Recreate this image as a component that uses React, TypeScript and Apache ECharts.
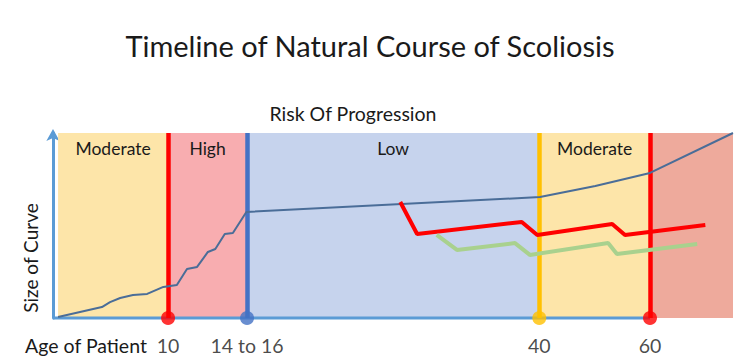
import React, { useEffect, useRef } from "react";
import * as echarts from "echarts";

// Timeline positions (0..100 along the age axis, as drawn in the picture)
const bandNames = ["Moderate", "High", "Low", "Moderate", ""];
const bandStarts = [0, 16.3, 28.0, 71.3, 87.7];
const bandEnds = [16.3, 28.0, 71.3, 87.7, 100];
const bandColors = ["#fde5a9", "#f8adb0", "#c6d3ed", "#fde5a9", "#eeaa9c"];

const markerPositions = [16.3, 28.0, 71.3, 87.7];
const markerLabels = ["10", "14 to 16", "40", "60"];
const markerColors = ["#ff0000", "#4472c4", "#ffc000", "#ff0000"];

// Natural course curve (size of curve, 0..100)
const naturalX = [0, 6.5, 7.7, 9.2, 11.1, 13.2, 15.6, 17.6, 19.1, 20.6, 22.2, 23.3, 24.7, 25.9, 27.9, 71.4, 79.6, 87.7, 100];
const naturalY = [0.5, 5.9, 8.6, 10.8, 12.4, 13.0, 16.8, 17.8, 26.5, 27.6, 35.7, 37.3, 45.4, 45.9, 57.3, 65.4, 71.4, 78.4, 100];

const redX = [50.7, 53.2, 68.7, 71.0, 82.1, 84.0, 95.9];
const redY = [62.7, 45.4, 51.9, 44.9, 50.8, 44.9, 50.3];

const greenX = [56.1, 59.1, 67.7, 69.9, 81.5, 82.8, 94.7];
const greenY = [44.9, 36.8, 40.5, 34.1, 40.5, 34.6, 40.0];

const X_MIN = -0.75;
const X_MAX = 100;
const AXIS_END = 87.7;

const FONT = "Lato, 'Noto Sans', sans-serif";

export default function App() {
  const ref = useRef<HTMLDivElement>(null);

  useEffect(() => {
    document.body.style.margin = "0";
    if (!ref.current) return;
    const chart = echarts.init(ref.current, undefined, { renderer: "svg" });

    const zip = (xs: number[], ys: number[]) => xs.map((x, i) => [x, ys[i]]);

    chart.setOption({
      animation: false,
      backgroundColor: "#ffffff",
      grid: { left: 53, right: 17, top: 133, bottom: 44 },
      xAxis: {
        type: "value",
        min: X_MIN,
        max: X_MAX,
        axisLine: { show: false },
        axisTick: { show: false },
        axisLabel: { show: false },
        splitLine: { show: false },
      },
      yAxis: {
        type: "value",
        min: 0,
        max: 100,
        axisLine: {
          show: true,
          onZero: false,
          lineStyle: { color: "#5b9bd5", width: 3 },
          symbol: ["none", "arrow"],
          symbolSize: [10, 12],
          symbolOffset: [0, 4],
        },
        axisTick: { show: false },
        axisLabel: { show: false },
        splitLine: { show: false },
      },
      graphic: [
        {
          type: "text",
          x: 370,
          y: 45,
          style: {
            text: "Timeline of Natural Course of Scoliosis",
            font: `29px ${FONT}`,
            fill: "#1a1a1a",
            align: "center",
            verticalAlign: "middle",
          },
        },
        {
          type: "text",
          x: 353,
          y: 113,
          style: {
            text: "Risk Of Progression",
            font: `19.5px ${FONT}`,
            fill: "#1a1a1a",
            align: "center",
            verticalAlign: "middle",
          },
        },
        {
          type: "text",
          x: 30,
          y: 258,
          rotation: Math.PI / 2,
          style: {
            text: "Size of Curve",
            font: `19px ${FONT}`,
            fill: "#1a1a1a",
            align: "center",
            verticalAlign: "middle",
          },
        },
        {
          type: "text",
          x: 86,
          y: 345,
          style: {
            text: "Age of Patient",
            font: `19.5px ${FONT}`,
            fill: "#1a1a1a",
            align: "center",
            verticalAlign: "middle",
          },
        },
      ],
      series: [
        {
          name: "bands",
          type: "line",
          data: [],
          markArea: {
            silent: true,
            data: bandNames.map((n, i) => [
              {
                name: n,
                xAxis: bandStarts[i],
                yAxis: 0,
                itemStyle: { color: bandColors[i], opacity: 1 },
                label: {
                  show: n !== "",
                  position: "insideTop",
                  distance: 6,
                  color: "#1a1a1a",
                  fontFamily: FONT,
                  fontSize: 17.5,
                },
              },
              { xAxis: bandEnds[i], yAxis: 100 },
            ]),
          },
        },
        {
          name: "ageAxis",
          type: "line",
          data: [
            [X_MIN, 0],
            [AXIS_END, 0],
          ],
          symbol: "none",
          lineStyle: { color: "#5b9bd5", width: 3 },
          clip: false,
          z: 3,
        },
        {
          name: "markers",
          type: "line",
          data: [],
          markLine: {
            silent: true,
            symbol: "none",
            label: { show: false },
            data: markerPositions.map((p, i) => [
              { coord: [p, 0], lineStyle: { color: markerColors[i], width: 4.5, type: "solid" } },
              { coord: [p, 100] },
            ]),
          },
          z: 4,
        },
        {
          name: "Natural course",
          type: "line",
          data: zip(naturalX, naturalY),
          symbol: "none",
          lineStyle: { color: "#4a6d98", width: 2 },
          z: 5,
        },
        {
          name: "Curve A",
          type: "line",
          data: zip(redX, redY),
          symbol: "none",
          lineStyle: { color: "#ff0000", width: 4 },
          z: 5,
        },
        {
          name: "Curve B",
          type: "line",
          data: zip(greenX, greenY),
          symbol: "none",
          lineStyle: { color: "#a9d18e", width: 4 },
          z: 5,
        },
        {
          name: "ages",
          type: "scatter",
          data: markerPositions.map((p, i) => ({
            value: [p, 0],
            itemStyle: { color: markerColors[i] },
            label: {
              show: true,
              formatter: markerLabels[i],
              position: "bottom",
              distance: 10,
              color: "#1a1a1a",
              fontFamily: FONT,
              fontSize: 19.5,
            },
          })),
          symbolSize: 14,
          clip: false,
          z: 6,
        },
      ],
    });

    return () => chart.dispose();
  }, []);

  return <div ref={ref} style={{ width: 750, height: 362 }} />;
}
